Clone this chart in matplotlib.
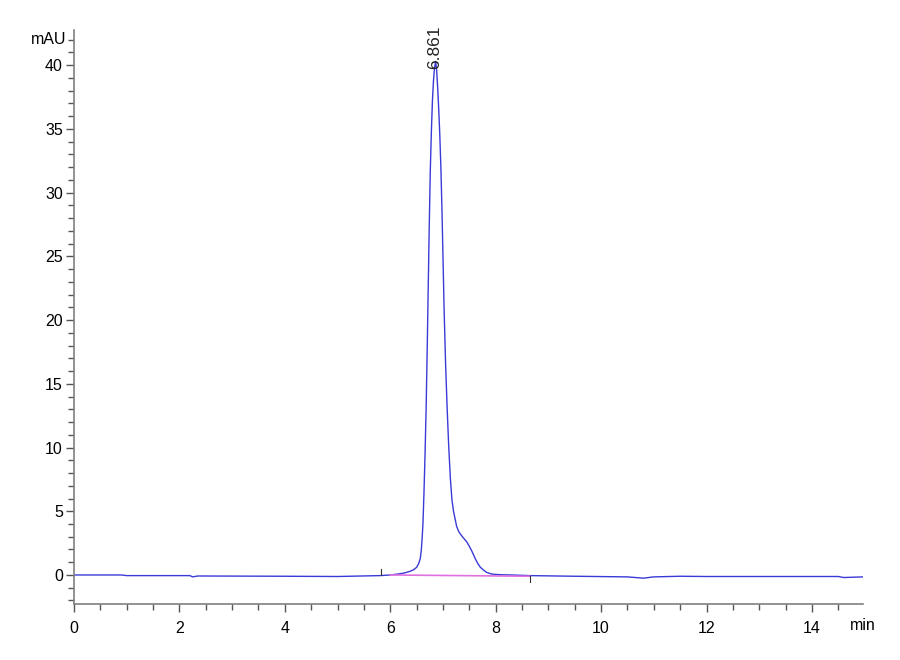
import matplotlib
matplotlib.use('Agg')
import matplotlib.pyplot as plt
from matplotlib.ticker import MultipleLocator

# signal (min, mAU)
time_min = [0.0, 0.9, 1.0, 2.2, 2.25, 2.35, 4.0, 5.0, 5.8, 6.0, 6.12, 6.25,
            6.35, 6.44, 6.5, 6.54, 6.57, 6.59, 6.605, 6.62, 6.64, 6.66, 6.68,
            6.70, 6.72, 6.74, 6.76, 6.78, 6.80, 6.82, 6.84, 6.861, 6.88, 6.90,
            6.92, 6.94, 6.96, 6.98, 7.00, 7.02, 7.05, 7.08, 7.11, 7.14, 7.17,
            7.20, 7.23, 7.26, 7.3, 7.35, 7.4, 7.45, 7.5, 7.55, 7.61, 7.66,
            7.71, 7.77, 7.83, 7.9, 7.97, 8.1, 8.3, 8.65, 9.5, 10.5, 10.8,
            11.0, 11.5, 12.0, 14.5, 14.6, 14.97]
signal = [0.0, 0.0, -0.05, -0.05, -0.15, -0.08, -0.1, -0.12, -0.05, 0.0,
          0.06, 0.14, 0.25, 0.4, 0.6, 0.9, 1.3, 2.0, 2.9, 4.0, 6.5, 9.5, 13.0,
          17.5, 22.5, 27.5, 31.8, 34.8, 37.2, 38.8, 39.8, 40.3, 39.6, 38.2,
          36.5, 34.5, 32.0, 28.8, 25.0, 21.1, 16.5, 13.0, 10.0, 7.6, 5.9, 5.0,
          4.4, 3.8, 3.4, 3.1, 2.85, 2.6, 2.25, 1.85, 1.3, 0.9, 0.6, 0.38, 0.2,
          0.1, 0.05, 0.02, 0.0, -0.05, -0.1, -0.15, -0.25, -0.15, -0.1, -0.12,
          -0.12, -0.2, -0.15]

# integration baseline and its start/end markers
base_x = [6.0, 8.65]
base_y = [0.0, -0.1]
peak_rt = 6.861
peak_h = 40.3

font = ['Liberation Sans Narrow', 'Liberation Sans', 'DejaVu Sans']
plt.rcParams['font.family'] = font

fig = plt.figure(figsize=(9, 6.6), dpi=100)
ax = fig.add_axes([0.0822, 0.0848, 0.8768, 0.8697])

ax.plot(time_min, signal, color='#3a3ad8', lw=1.0)
ax.plot(base_x, base_y, color='#e070e0', lw=1.2)
ax.plot([5.82, 5.82], [0.0, 0.45], color='#333333', lw=0.8)
ax.plot([8.65, 8.65], [-0.1, -0.55], color='#333333', lw=0.8)

ax.text(peak_rt - 0.02, peak_h - 0.6, f'{peak_rt:.3f}', rotation=90,
        ha='center', va='bottom', fontsize=12.5, color='#222222')

ax.set_xlim(0, 14.97)
ax.set_ylim(-2.28, 42.76)

ax.xaxis.set_major_locator(MultipleLocator(2))
ax.xaxis.set_minor_locator(MultipleLocator(0.5))
ax.yaxis.set_major_locator(MultipleLocator(5))
ax.yaxis.set_minor_locator(MultipleLocator(1))

for s in ['top', 'right']:
    ax.spines[s].set_visible(False)
for s in ['left', 'bottom']:
    ax.spines[s].set_color('#808080')
    ax.spines[s].set_linewidth(1.2)

ax.tick_params(which='major', length=6, width=1, color='#555555',
               labelsize=11.5, pad=2)
ax.tick_params(which='minor', length=4, width=1, color='#555555')
ax.tick_params(axis='x', pad=6)

# unit labels sit in the tick label rows
ax.text(-0.14, 42, 'mAU', ha='right', va='center', fontsize=11.5)
ax.text(14.72, -4.0, 'min', ha='left', va='center', fontsize=11.5)

fig.savefig('out.png', dpi=100)
